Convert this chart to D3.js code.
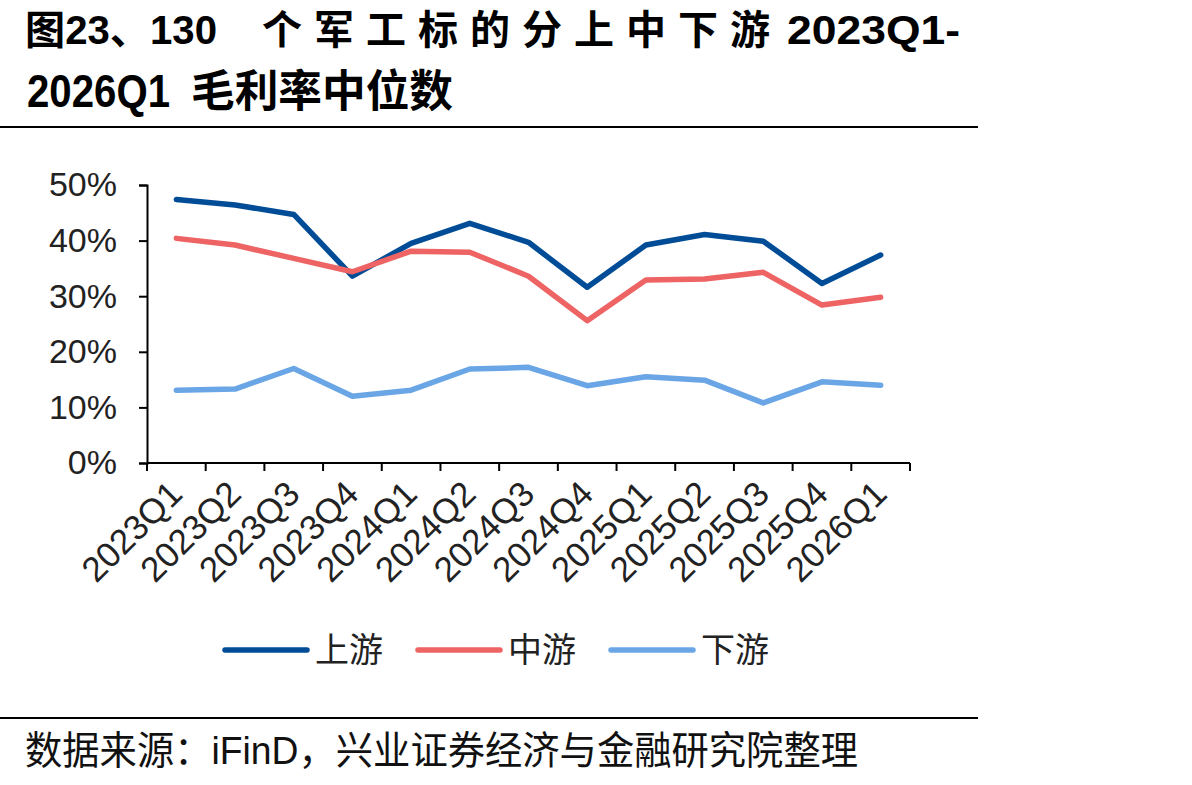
<!DOCTYPE html>
<html>
<head>
<meta charset="utf-8">
<script src="https://cdn.jsdelivr.net/npm/d3@7"></script>
<style>
  body { margin: 0; background: #fff; }
  svg { display: block; font-family: "Liberation Sans", Arial, "Noto Sans CJK SC", sans-serif; }
</style>
</head>
<body>
<div id="chart"></div>
<script>
// quarters on the x axis
const quarters = ['2023Q1', '2023Q2', '2023Q3', '2023Q4', '2024Q1', '2024Q2', '2024Q3',
    '2024Q4', '2025Q1', '2025Q2', '2025Q3', '2025Q4', '2026Q1'];

// median gross margin, %
const upstream = [47.4, 46.4, 44.7, 33.6, 39.5, 43.1, 39.7, 31.6, 39.2, 41.1, 39.9, 32.3, 37.4];
const midstream = [40.4, 39.2, 36.8, 34.4, 38.1, 37.9, 33.6, 25.6, 32.9, 33.1, 34.3, 28.4, 29.8];
const downstream = [13.1, 13.3, 17.0, 12.0, 13.1, 16.9, 17.2, 13.9, 15.5, 14.9, 10.8, 14.6, 14.0];

const yTicks = [0, 10, 20, 30, 40, 50];

const seriesNames = ['上游', '中游', '下游'];
const seriesColors = ['#004C97', '#EE6363', '#6AA6E6'];

const width = 1192, height = 785;
const plot = { left: 147, right: 910, top: 185, bottom: 463 };

const svg = d3.select('#chart').append('svg')
    .attr('width', width)
    .attr('height', height);

// title, split in pieces so the justified spacing of the original can be kept
const titlePieces = [
    { text: '图23、130', x: 25, y: 44, len: 192, size: 40, adjust: 'spacingAndGlyphs' },
    { text: '个军工标的分上中下游', x: 262, y: 44, len: 508, size: 40, adjust: 'spacing' },
    { text: '2023Q1-', x: 787, y: 44, len: 173, size: 40, adjust: 'spacingAndGlyphs' },
    { text: '2026Q1', x: 27, y: 107, len: 143, size: 46, adjust: 'spacingAndGlyphs' },
    { text: '毛利率中位数', x: 191, y: 107, len: 262, size: 44, adjust: 'spacingAndGlyphs' }
];
svg.selectAll('.title')
    .data(titlePieces)
    .join('text')
    .attr('class', 'title')
    .attr('x', d => d.x).attr('y', d => d.y)
    .attr('textLength', d => d.len)
    .attr('lengthAdjust', d => d.adjust)
    .style('font-size', d => d.size + 'px')
    .style('font-weight', 'bold')
    .text(d => d.text);

// rules
svg.append('line').attr('x1', 0).attr('x2', 978).attr('y1', 127).attr('y2', 127)
    .attr('stroke', '#000').attr('stroke-width', 2);
svg.append('line').attr('x1', 0).attr('x2', 978).attr('y1', 718).attr('y2', 718)
    .attr('stroke', '#000').attr('stroke-width', 2);

// scales
const xScale = d3.scaleBand()
    .domain(quarters)
    .range([plot.left, plot.right]);

const yScale = d3.scaleLinear()
    .domain([0, 50])
    .range([plot.bottom, plot.top]);

// y axis
const yAxis = d3.axisLeft(yScale)
    .tickValues(yTicks)
    .tickSize(8)
    .tickPadding(22)
    .tickFormat(d => d + '%');

const gy = svg.append('g')
    .attr('transform', `translate(${plot.left},0)`)
    .call(yAxis);
gy.select('.domain').attr('stroke-width', 2);
gy.selectAll('.tick line').attr('stroke-width', 2);
gy.selectAll('.tick text')
    .style('font-size', '34px')
    .style('font-family', '"Liberation Sans", Arial, sans-serif')
    .attr('fill', '#222');

// x axis: ticks sit at the band boundaries
const gx = svg.append('g')
    .attr('transform', `translate(0,${plot.bottom})`);
gx.append('line')
    .attr('x1', plot.left).attr('x2', plot.right)
    .attr('stroke', '#000').attr('stroke-width', 2);
const boundaries = quarters.map(q => xScale(q)).concat([xScale.range()[1]]);
gx.selectAll('.xtick')
    .data(boundaries)
    .join('line')
    .attr('class', 'xtick')
    .attr('x1', d => d).attr('x2', d => d)
    .attr('y1', 0).attr('y2', 8)
    .attr('stroke', '#000').attr('stroke-width', 2);

gx.selectAll('.xlabel')
    .data(quarters)
    .join('text')
    .attr('class', 'xlabel')
    .attr('text-anchor', 'end')
    .attr('transform', d => `translate(${xScale(d) + xScale.bandwidth() / 2 + 8},${33}) rotate(-45)`)
    .style('font-size', '35px')
    .attr('fill', '#222')
    .text(d => d);

// lines
const allSeries = [upstream, midstream, downstream];
const line = d3.line()
    .x((d, i) => xScale(quarters[i]) + xScale.bandwidth() / 2)
    .y(d => yScale(d));

svg.selectAll('.series')
    .data(allSeries)
    .join('path')
    .attr('class', 'series')
    .attr('fill', 'none')
    .attr('stroke', (d, i) => seriesColors[i])
    .attr('stroke-width', 5.5)
    .attr('stroke-linejoin', 'round')
    .attr('stroke-linecap', 'round')
    .attr('d', line);

// legend
const legendX = [225, 418, 611];
const legend = svg.selectAll('.legend-item')
    .data(seriesNames)
    .join('g')
    .attr('class', 'legend-item')
    .attr('transform', (d, i) => `translate(${legendX[i]},650)`);
legend.append('line')
    .attr('x1', 0).attr('x2', 82)
    .attr('stroke', (d, i) => seriesColors[i])
    .attr('stroke-width', 5.5)
    .attr('stroke-linecap', 'round');
legend.append('text')
    .attr('x', 90).attr('y', 12)
    .style('font-size', '34px')
    .attr('fill', '#222')
    .text(d => d);

// source
svg.append('text')
    .attr('x', 25).attr('y', 764)
    .attr('textLength', 833)
    .attr('lengthAdjust', 'spacingAndGlyphs')
    .style('font-size', '39px')
    .attr('fill', '#111')
    .text('数据来源：iFinD，兴业证券经济与金融研究院整理');
</script>
</body>
</html>
